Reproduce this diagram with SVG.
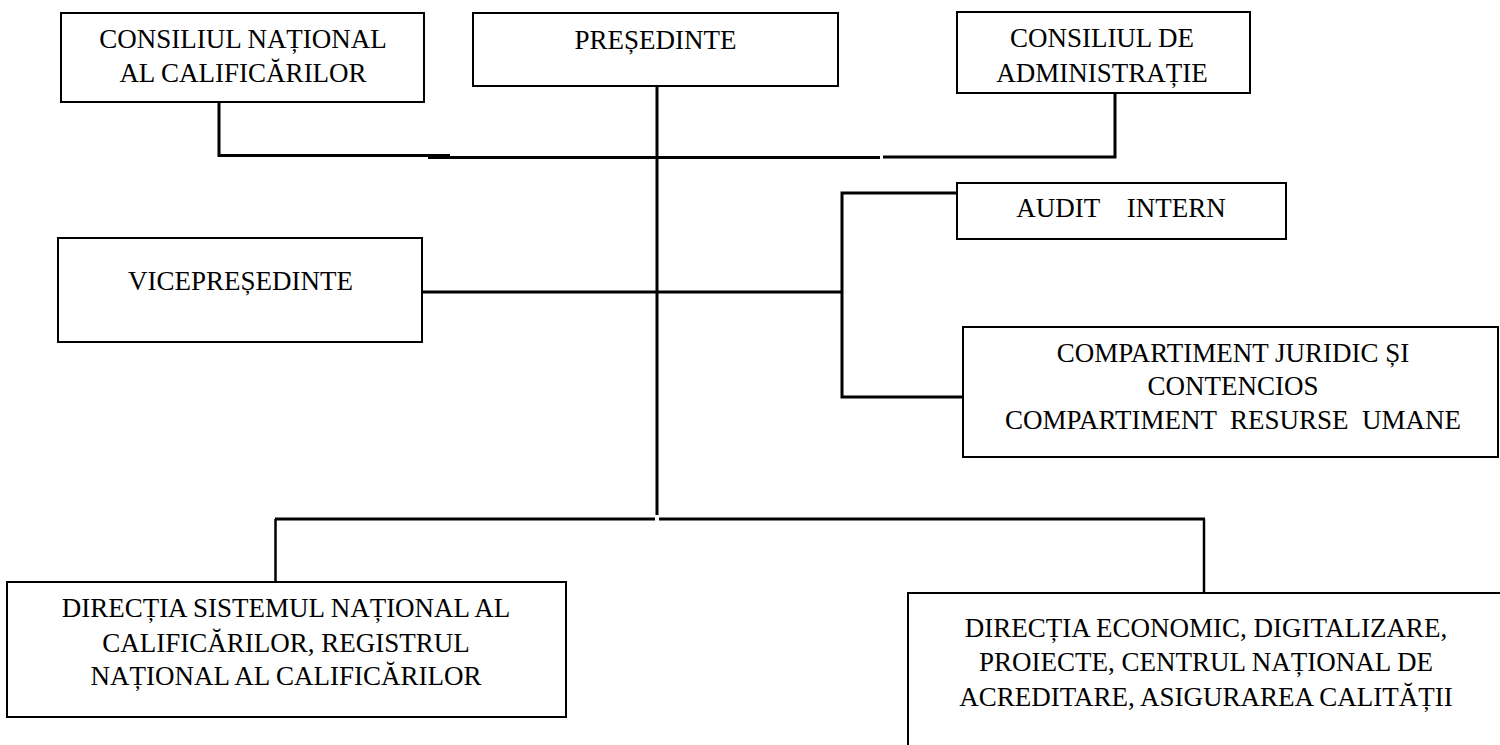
<svg xmlns="http://www.w3.org/2000/svg" width="1500" height="745" viewBox="0 0 1500 745">
<style>
.box{fill:#fff;stroke:#000;stroke-width:2}
.t{font-family:"Liberation Serif","Times New Roman",serif;font-size:27px;fill:#000;text-anchor:middle;white-space:pre}
.c{fill:none;stroke:#000;stroke-width:3}
.c2{fill:none;stroke:#000;stroke-width:2.5}
</style>
<rect width="1500" height="745" fill="#fff"/>
<g id="connectors">
<path class="c" d="M219,102 V155.5 H450"/>
<path class="c" d="M428,157.5 H880"/>
<path class="c" d="M883,157 H1115 V93"/>
<path class="c" d="M657,86 V515"/>
<path class="c" d="M275,519 H655"/>
<path class="c" d="M659,519 H1205"/>
<path class="c2" d="M275.5,519 V583"/>
<path class="c2" d="M1204,519 V593"/>
<path class="c" d="M422,292 H842"/>
<path class="c" d="M957,193 H842 V397 H963"/>
</g>
<g id="cnc">
<rect class="box" x="61" y="13" width="363" height="89"/>
<text class="t" x="243" y="48">CONSILIUL NAȚIONAL</text>
<text class="t" x="243" y="82">AL CALIFICĂRILOR</text>
</g>
<g id="presedinte">
<rect class="box" x="473" y="13" width="365" height="73"/>
<text class="t" x="655.5" y="49">PREȘEDINTE</text>
</g>
<g id="cda">
<rect class="box" x="957" y="12" width="293" height="81"/>
<text class="t" x="1102" y="47">CONSILIUL DE</text>
<text class="t" x="1102" y="82">ADMINISTRAȚIE</text>
</g>
<g id="vicepresedinte">
<rect class="box" x="58" y="238" width="364" height="104"/>
<text class="t" x="240.5" y="290">VICEPREȘEDINTE</text>
</g>
<g id="audit">
<rect class="box" x="957" y="183" width="329" height="56"/>
<text class="t" x="1121" y="217" xml:space="preserve">AUDIT    INTERN</text>
</g>
<g id="juridic">
<rect class="box" x="963" y="327" width="535" height="130"/>
<text class="t" x="1233" y="362">COMPARTIMENT JURIDIC ȘI</text>
<text class="t" x="1233" y="395">CONTENCIOS</text>
<text class="t" x="1233" y="429" xml:space="preserve">COMPARTIMENT  RESURSE  UMANE</text>
</g>
<g id="directia-snc">
<rect class="box" x="7" y="582" width="559" height="135"/>
<text class="t" x="286" y="617">DIRECȚIA SISTEMUL NAȚIONAL AL</text>
<text class="t" x="286" y="652">CALIFICĂRILOR, REGISTRUL</text>
<text class="t" x="286" y="685">NAȚIONAL AL CALIFICĂRILOR</text>
</g>
<g id="directia-economic">
<rect class="box" x="908" y="593" width="620" height="200"/>
<text class="t" x="1206" y="637">DIRECȚIA ECONOMIC, DIGITALIZARE,</text>
<text class="t" x="1206" y="671">PROIECTE, CENTRUL NAȚIONAL DE</text>
<text class="t" x="1206" y="706">ACREDITARE, ASIGURAREA CALITĂȚII</text>
</g>
</svg>
